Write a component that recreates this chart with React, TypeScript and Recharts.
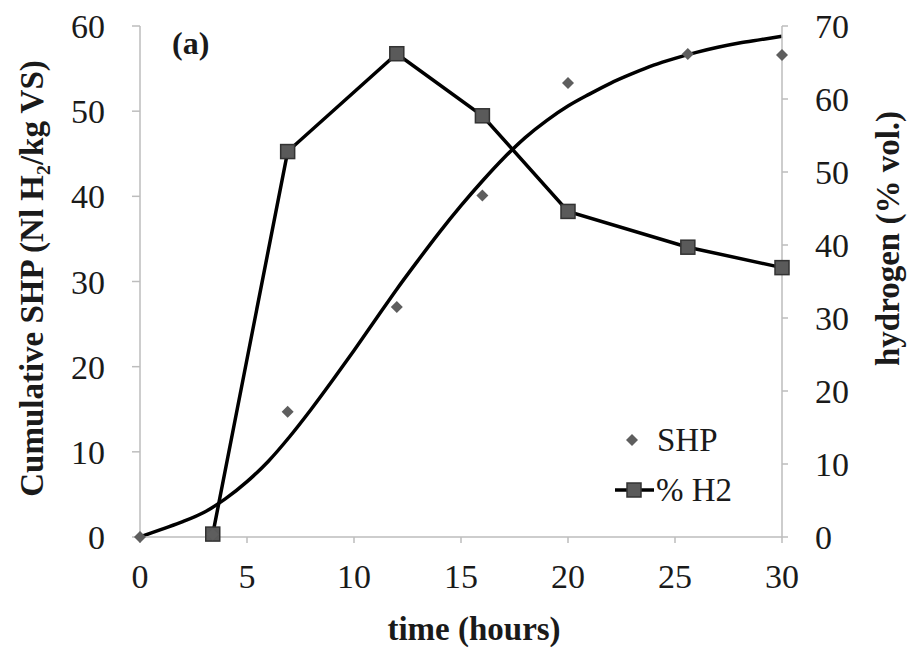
import React from 'react';
import { ComposedChart, Line, Scatter, XAxis, YAxis } from 'recharts';

const FONT = '"Liberation Serif", "Times New Roman", serif';
const AXIS = '#bdbdbd';
const INK = '#1a1a1a';

// measured cumulative SHP (left axis)
const shpTime = [0, 3.4, 6.9, 12, 16, 20, 25.6, 30];
const shpValue = [0, 0.3, 14.7, 27, 40.1, 53.3, 56.7, 56.6];

// fitted curve, every hour
const fitTime = [0, 1, 2, 3, 4, 5, 6, 7, 8, 9, 10, 11, 12, 13, 14, 15, 16, 17, 18, 19, 20, 21, 22, 23, 24, 25, 26, 27, 28, 29, 30];
const fitValue = [0, 0.9, 1.8, 2.9, 4.5, 6.5, 8.9, 11.8, 15.0, 18.4, 21.9, 25.5, 29.1, 32.5, 35.8, 38.9, 41.8, 44.5, 46.9, 48.9, 50.6, 52.0, 53.3, 54.4, 55.4, 56.2, 56.9, 57.5, 58.0, 58.4, 58.8];

// hydrogen content (right axis)
const h2Time = [3.4, 6.9, 12, 16, 20, 25.6, 30];
const h2Value = [0.4, 52.8, 66.2, 57.7, 44.6, 39.7, 36.9];

const xTicks = [0, 5, 10, 15, 20, 25, 30];
const leftTicks = [0, 10, 20, 30, 40, 50, 60];
const rightTicks = [0, 10, 20, 30, 40, 50, 60, 70];

const shpData = shpTime.map((x, i) => ({ x, y: shpValue[i] }));
const fitData = fitTime.map((x, i) => ({ x, y: fitValue[i] }));
const h2Data = h2Time.map((x, i) => ({ x, y: h2Value[i] }));

const tickStyle = { fontSize: 34, fill: INK, fontFamily: FONT };

const Diamond = (props: any) => {
  const { cx, cy } = props;
  if (cx == null || cy == null) return null;
  const r = 6;
  return <path d={`M${cx},${cy - r}L${cx + r},${cy}L${cx},${cy + r}L${cx - r},${cy}Z`} fill="#5e5e5e" />;
};

const Square = (props: any) => {
  const { cx, cy, index } = props;
  if (cx == null || cy == null) return null;
  return <rect key={`sq-${index}`} x={cx - 7} y={cy - 7} width={14} height={14} fill="#5a5a5a" stroke="#333" strokeWidth={1.5} />;
};

const titleStyle = { fontSize: 33, fontWeight: 700, fill: INK, fontFamily: FONT };

function ChartLegend() {
  return (
    <div style={{ position: 'absolute', left: 600, top: 415, width: 180, height: 100, fontFamily: FONT, fontSize: 33, color: INK }}>
      <svg width={60} height={100} style={{ position: 'absolute', left: 0, top: 0 }}>
        <path d="M32,19L38,25L32,31L26,25Z" fill="#5e5e5e" />
        <line x1={15} y1={75} x2={54} y2={75} stroke="#000" strokeWidth={3.5} />
        <rect x={27} y={68} width={14} height={14} fill="#5a5a5a" stroke="#333" strokeWidth={1.5} />
      </svg>
      <div style={{ position: 'absolute', left: 57, top: 0, lineHeight: '50px' }}>SHP</div>
      <div style={{ position: 'absolute', left: 56, top: 50, lineHeight: '50px' }}>% H2</div>
    </div>
  );
}

export default function App() {
  return (
    <div style={{ position: 'absolute', left: 0, top: 0, width: 909, height: 653, background: '#fff', fontFamily: FONT }}>
      <ComposedChart width={909} height={653} margin={{ top: 26, right: 0, left: 0, bottom: 0 }} style={{ fontFamily: FONT }}>
        <XAxis
          type="number"
          dataKey="x"
          domain={[0, 30]}
          ticks={xTicks}
          height={116}
          stroke={AXIS}
          strokeWidth={1.5}
          tickSize={6}
          tickMargin={21}
          tick={tickStyle}
          label={{
            content: (p: any) => {
              const vb = p.viewBox;
              return (
                <text x={vb.x + vb.width / 2 + 13} y={vb.y + vb.height - 13} textAnchor="middle" style={titleStyle}>
                  time (hours)
                </text>
              );
            }
          }}
        />
        <YAxis
          yAxisId="left"
          orientation="left"
          domain={[0, 60]}
          ticks={leftTicks}
          width={140}
          stroke={AXIS}
          strokeWidth={1.5}
          tickSize={8}
          tickMargin={27}
          tick={tickStyle}
          label={{
            content: (p: any) => {
              const vb = p.viewBox;
              const x = vb.x + 32;
              const y = vb.y + vb.height / 2 - 3;
              return (
                <text x={x} y={y} textAnchor="middle" dominantBaseline="central" transform={`rotate(-90, ${x}, ${y})`} style={titleStyle}>
                  Cumulative SHP (Nl H₂/kg VS)
                </text>
              );
            }
          }}
        />
        <YAxis
          yAxisId="right"
          orientation="right"
          domain={[0, 70]}
          ticks={rightTicks}
          width={127}
          stroke={AXIS}
          strokeWidth={1.5}
          tickSize={6}
          tickMargin={27}
          tick={tickStyle}
          label={{
            content: (p: any) => {
              const vb = p.viewBox;
              const x = vb.x + 106;
              const y = vb.y + vb.height / 2 - 43;
              return (
                <text x={x} y={y} textAnchor="middle" dominantBaseline="central" transform={`rotate(-90, ${x}, ${y})`} style={titleStyle}>
                  hydrogen (% vol.)
                </text>
              );
            }
          }}
        />
        <Line
          yAxisId="left"
          data={fitData}
          dataKey="y"
          type="monotone"
          stroke="#000"
          strokeWidth={3.5}
          dot={false}
          activeDot={false}
          isAnimationActive={false}
        />
        <Line
          yAxisId="right"
          data={h2Data}
          dataKey="y"
          name="% H2"
          type="linear"
          stroke="#000"
          strokeWidth={3.5}
          dot={<Square />}
          activeDot={false}
          isAnimationActive={false}
        />
        <Scatter
          yAxisId="left"
          data={shpData}
          dataKey="y"
          name="SHP"
          shape={<Diamond />}
          isAnimationActive={false}
        />
      </ComposedChart>
      <ChartLegend />
      <div style={{ position: 'absolute', left: 172, top: 27, fontFamily: FONT, fontSize: 32, fontWeight: 700, lineHeight: 1, color: INK }}>
        (a)
      </div>
    </div>
  );
}
